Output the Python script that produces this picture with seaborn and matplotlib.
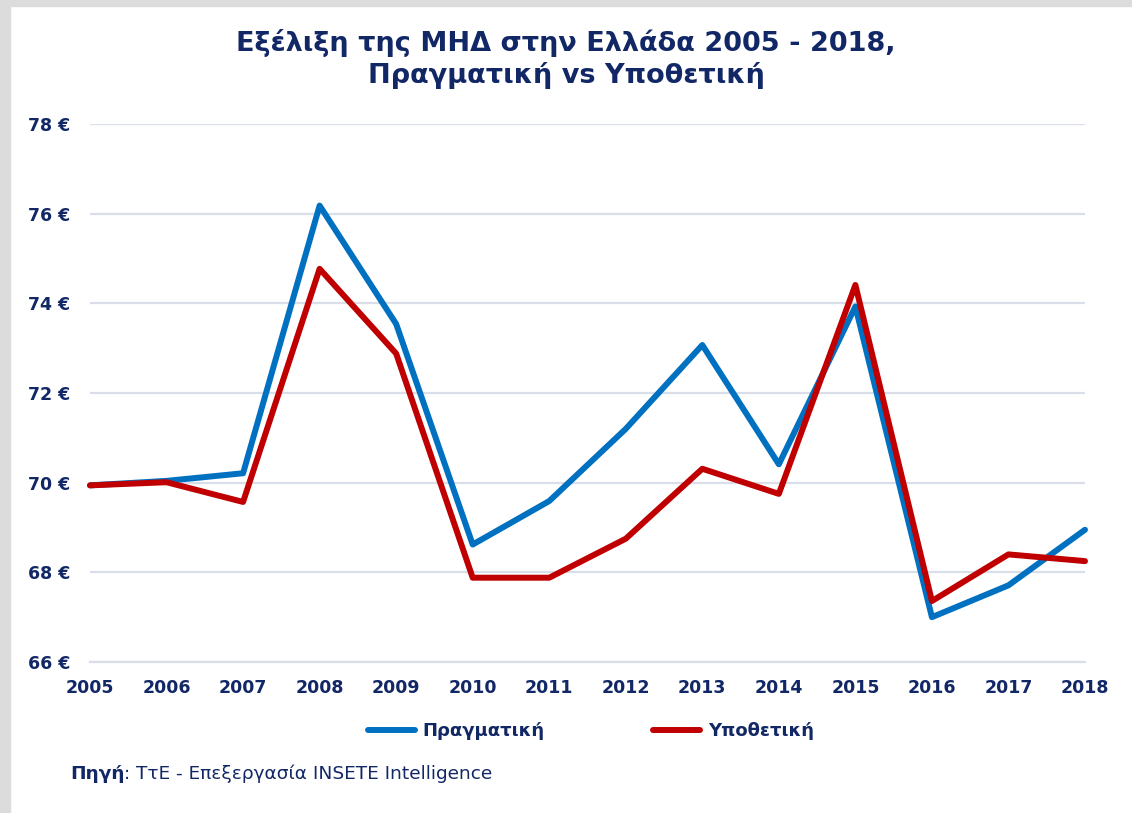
import pandas as pd
import matplotlib.pyplot as plt
import seaborn as sns
from matplotlib.patches import Rectangle

years = list(range(2005, 2019))
actual = [69.94, 70.04, 70.21, 76.18, 73.54, 68.62, 69.59, 71.2, 73.07, 70.41, 73.93, 67.0, 67.71, 68.95]
hypothetical = [69.94, 70.01, 69.57, 74.77, 72.88, 67.88, 67.88, 68.75, 70.31, 69.75, 74.41, 67.36, 68.4, 68.25]
series_names = ['Πραγματική', 'Υποθετική']
y_ticks = [66, 68, 70, 72, 74, 76, 78]

navy = '#122766'
colors = {'Πραγματική': '#0070C0', 'Υποθετική': '#C00000'}

df = pd.DataFrame({'year': years, series_names[0]: actual, series_names[1]: hypothetical})
long_df = df.melt(id_vars='year', var_name='series', value_name='value')

sns.set_style('white')
plt.rcParams['font.family'] = ['DejaVu Sans']

fig = plt.figure(figsize=(11.32, 8.13), dpi=100)
ax = fig.add_axes([90 / 1132, 1 - 662 / 813, (1085 - 90) / 1132, (662 - 124) / 813])

# grey frame of the screenshot
fig.patches.append(Rectangle((0, 0), 10 / 1132, 1, transform=fig.transFigure, color='#DCDCDC', zorder=0))
fig.patches.append(Rectangle((0, 1 - 6 / 813), 1, 6 / 813, transform=fig.transFigure, color='#DCDCDC', zorder=0))

sns.lineplot(data=long_df, x='year', y='value', hue='series', palette=colors,
             linewidth=4.3, ax=ax, legend=False, clip_on=False, zorder=3)

ax.set_xlim(2005, 2018)
ax.set_ylim(66, 78)
ax.set_yticks(y_ticks)
ax.set_yticklabels([f'{v} €' for v in y_ticks])
ax.set_xticks(years)
ax.set_xticklabels([str(y) for y in years])
ax.grid(axis='y', color='#D9DEE8', linewidth=1.6)
ax.grid(axis='x', visible=False)
for side in ['top', 'right', 'left']:
    ax.spines[side].set_visible(False)
ax.spines['bottom'].set_color('#D9DEE8')
ax.spines['bottom'].set_linewidth(1.6)
ax.tick_params(axis='x', colors='#D9DEE8', length=5, width=1.2, pad=7, labelcolor=navy)
ax.tick_params(axis='y', length=0, pad=14, labelcolor=navy)
for lbl in ax.get_xticklabels() + ax.get_yticklabels():
    lbl.set_fontweight('bold')
    lbl.set_fontsize(12.5)
ax.set_xlabel('')
ax.set_ylabel('')

fig.text(0.5, 1 - 59 / 813, 'Εξέλιξη της ΜΗΔ στην Ελλάδα 2005 - 2018,\nΠραγματική vs Υποθετική',
         ha='center', va='center', fontsize=19.5, fontweight='bold', color=navy, linespacing=1.25)

handles = [plt.Line2D([], [], color=colors[n], linewidth=4.3) for n in series_names]
leg = fig.legend(handles, series_names, loc='center', bbox_to_anchor=(0.522, 1 - 731 / 813),
                 ncol=2, frameon=False, handlelength=2.6, handletextpad=0.45, columnspacing=6.0,
                 prop={'weight': 'bold', 'size': 13})
for t in leg.get_texts():
    t.set_color(navy)

src = fig.text(70 / 1132, 1 - 774 / 813, 'Πηγή', ha='left', va='center', fontsize=13.3,
               fontweight='bold', color=navy)
ax.annotate(': ΤτΕ - Επεξεργασία INSETE Intelligence', xy=(1, 0), xycoords=src,
            ha='left', va='bottom', fontsize=13.3, color=navy, annotation_clip=False)

fig.savefig('out.png', dpi=100, facecolor='white')
